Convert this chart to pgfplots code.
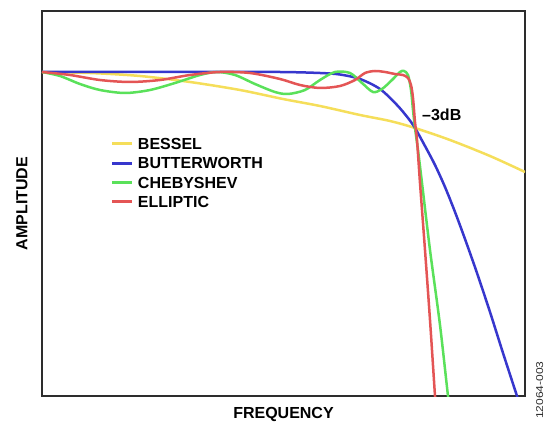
\documentclass[border=0pt]{standalone}
\usepackage{fontspec}
\setmainfont{Liberation Sans}
\usepackage{graphicx}
\usepackage{pgfplots}
\pgfplotsset{compat=1.18}
\definecolor{cyel}{RGB}{245,222,90}
\definecolor{cblu}{RGB}{55,55,205}
\definecolor{cgrn}{RGB}{90,225,90}
\definecolor{cred}{RGB}{228,85,85}
\definecolor{frame}{RGB}{45,45,45}
\begin{document}
\begin{tikzpicture}
\useasboundingbox (0,0) rectangle (547pt,421pt);
\begin{axis}[
  at={(42pt,25pt)}, anchor=south west,
  scale only axis, width=483pt, height=385pt,
  xmin=42, xmax=525, ymin=25, ymax=410,
  xtick=\empty, ytick=\empty,
  axis line style={draw=frame, line width=2pt},
  xlabel={\bfseries FREQUENCY},
  xlabel style={at={(axis description cs:0.5,0)}, anchor=base, yshift=-22.5pt, inner sep=0pt, font=\fontsize{16}{19}\selectfont},
  ylabel={\bfseries AMPLITUDE},
  ylabel style={at={(axis description cs:-0.0304,0.5)}, anchor=base, rotate=0, inner sep=0pt, font=\fontsize{16}{19}\selectfont},
  legend image code/.code={\draw[#1, line width=3pt] (0pt,0pt) -- (20pt,0pt);},
  legend cell align=left,
  legend style={draw=none, fill=none, at={(axis cs:111,283)}, anchor=north west,
    inner sep=0pt, outer sep=0pt, row sep=7.9pt, column sep=4pt,
    font=\bfseries\fontsize{16}{19}\selectfont,
    nodes={inner sep=0pt, text height=11.5pt, text depth=0pt}},
  every axis plot/.append style={line width=2.5pt, smooth, tension=0.5},
]
% Bessel
\addplot[cyel] coordinates {(42,349)(90,348)(140,345)(190,339)(240,331)(283,322)(320,315)(360,306)(390,300)(415,293)(450,281)(490,265)(525,249)};
\addlegendentry{BESSEL}
% Butterworth
\addplot[cblu] coordinates {(42,349)(100,349)(200,349)(280,349)(320,348)(340,346.5)(360,342)(380,332)(397,316)(408,303)(415,293)(425,275)(435,256)(445,234)(455,209)(465,182)(477,148)(490,109)(503,68)(517,25)(522,10)};
\addlegendentry{BUTTERWORTH}
% Chebyshev
\addplot[cgrn] coordinates {(42,349)(60,345)(80,337)(100,331)(125,328)(150,331)(175,338)(200,346)(217,349)(235,346)(255,337)(275,329)(288,327)(305,331)(320,341)(335,349)(350,348)(362,338)(373,329)(382,332)(392,341)(400,349)(404,350)(408,346)(411,331)(413,311)(415,293)(418,271)(422,238)(430,171)(440,96)(448,25)(450,11)};
\addlegendentry{CHEBYSHEV}
% Elliptic
\addplot[cred] coordinates {(42,349)(70,346)(100,341)(130,339)(160,341)(190,346)(220,349)(250,348)(280,342)(300,336)(320,333)(340,335)(355,341)(365,348)(375,350)(385,349)(395,347)(403,346)(408,343)(411,336)(413,323)(415,299)(417,281)(420,238)(425,171)(430,101)(435,25)(436,11)};
\addlegendentry{ELLIPTIC}
\node[anchor=base west, inner sep=0pt, font=\bfseries\fontsize{16}{19}\selectfont] at (axis cs:422,300.5) {–3dB};
\end{axis}
\node[rotate=90, anchor=base west, inner sep=0pt, text=frame, font=\fontsize{10}{12}\selectfont] at (543pt,2pt) {\scalebox{1.2}[1]{12064-003}};
\end{tikzpicture}
\end{document}
